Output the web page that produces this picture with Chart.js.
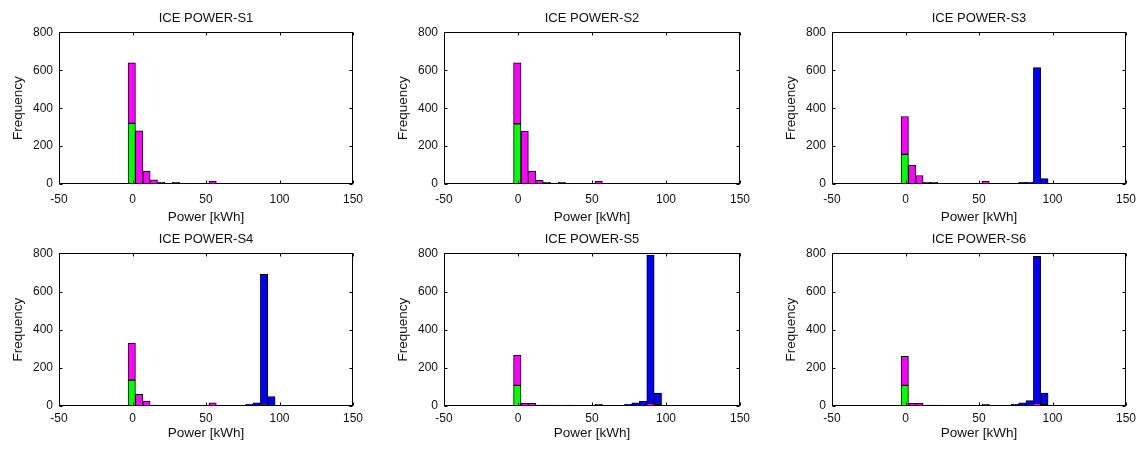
<!DOCTYPE html>
<html>
<head>
<meta charset="utf-8">
<script src="https://cdn.jsdelivr.net/npm/chart.js@4"></script>
<style>
  body { margin: 0; background: #fff; }
  #page { position: relative; width: 1140px; height: 449px; overflow: hidden; }
  canvas { position: absolute; }
</style>
</head>
<body>
<div id="page"></div>
<script>
// bin centres of the histogram (kWh)
const binCenters = [-0.5, 4.5, 9.5, 14.5, 19.5, 24.5, 29.5, 34.5, 39.5, 44.5, 49.5,
                    54.5, 59.5, 64.5, 69.5, 74.5, 79.5, 84.5, 89.5, 94.5, 99.5];

const xTickValues = [-50, 0, 50, 100, 150];
const yTickValues = [0, 200, 400, 600, 800];

const titles = ['ICE POWER-S1', 'ICE POWER-S2', 'ICE POWER-S3',
                'ICE POWER-S4', 'ICE POWER-S5', 'ICE POWER-S6'];
const xLabel = 'Power [kWh]';
const yLabel = 'Frequency';

// S1
const greenS1   = [320, 0, 0, 0, 0, 0, 0, 0, 0, 0, 0, 0, 0, 0, 0, 0, 0, 0, 0, 0, 0];
const magentaS1 = [320, 280, 68, 22, 9, 3, 9, 3, 3, 3, 3, 16, 0, 0, 0, 0, 0, 0, 0, 0, 0];
const blueS1    = [0, 0, 0, 0, 0, 0, 0, 0, 0, 0, 0, 0, 0, 0, 0, 0, 0, 0, 0, 0, 0];
// S2
const greenS2   = [318, 0, 0, 0, 0, 0, 0, 0, 0, 0, 0, 0, 0, 0, 0, 0, 0, 0, 0, 0, 0];
const magentaS2 = [322, 278, 68, 20, 9, 3, 9, 3, 3, 3, 3, 16, 0, 0, 0, 0, 0, 0, 0, 0, 0];
const blueS2    = [0, 0, 0, 0, 0, 0, 0, 0, 0, 0, 0, 0, 0, 0, 0, 0, 0, 0, 0, 0, 0];
// S3
const greenS3   = [156, 0, 0, 0, 0, 0, 0, 0, 0, 0, 0, 0, 0, 0, 0, 0, 0, 0, 0, 0, 0];
const magentaS3 = [200, 98, 45, 9, 9, 3, 3, 3, 3, 3, 3, 16, 4, 0, 0, 0, 0, 0, 0, 0, 0];
const blueS3    = [0, 0, 0, 0, 0, 0, 0, 0, 0, 0, 0, 0, 0, 0, 4, 4, 9, 9, 614, 28, 3];
// S4
const greenS4   = [136, 0, 0, 0, 0, 0, 0, 0, 0, 0, 0, 0, 0, 0, 0, 0, 0, 0, 0, 0, 0];
const magentaS4 = [194, 61, 26, 5, 3, 3, 0, 0, 3, 3, 3, 16, 3, 0, 0, 0, 0, 0, 8, 0, 0];
const blueS4    = [0, 0, 0, 0, 0, 0, 0, 0, 0, 0, 0, 0, 0, 0, 3, 3, 10, 17, 682, 50, 3];
// S5
const greenS5   = [108, 0, 0, 0, 0, 0, 0, 0, 0, 0, 0, 0, 0, 0, 0, 0, 0, 0, 0, 0, 0];
const magentaS5 = [157, 14, 14, 5, 5, 5, 0, 5, 0, 4, 4, 9, 3, 3, 3, 0, 0, 0, 14, 7, 0];
const blueS5    = [0, 0, 0, 0, 0, 0, 0, 0, 0, 0, 0, 0, 0, 0, 0, 10, 16, 24, 776, 61, 3];
// S6
const greenS6   = [108, 0, 0, 0, 0, 0, 0, 0, 0, 0, 0, 0, 0, 0, 0, 0, 0, 0, 0, 0, 0];
const magentaS6 = [152, 14, 14, 5, 5, 0, 4, 0, 0, 3, 3, 9, 3, 3, 3, 0, 0, 0, 14, 7, 0];
const blueS6    = [0, 0, 0, 0, 0, 0, 0, 0, 0, 0, 0, 0, 0, 0, 0, 10, 17, 28, 771, 61, 3];

const series = [
  [greenS1, magentaS1, blueS1],
  [greenS2, magentaS2, blueS2],
  [greenS3, magentaS3, blueS3],
  [greenS4, magentaS4, blueS4],
  [greenS5, magentaS5, blueS5],
  [greenS6, magentaS6, blueS6]
];
const barColors = ['#00ff00', '#ff00ff', '#0000ff'];

// panel placement: canvas left/width per column, top/height per row
const cols = [{left: 0, width: 365}, {left: 385, width: 367}, {left: 773, width: 365}];
const rows = [{top: 7, height: 220, xBox: 43, tickPad: 8},
              {top: 228, height: 215, xBox: 37, tickPad: 5}];

const fontFamily = '"Liberation Sans", Arial, Helvetica, sans-serif';
const textColor = '#111';

// MATLAB style box with inward ticks
const boxPlugin = {
  id: 'boxPlugin',
  afterDraw(chart) {
    const ctx = chart.ctx;
    const a = chart.chartArea;
    const xs = chart.scales.x, ys = chart.scales.y;
    const l = Math.round(a.left) + 0.5, r = Math.round(a.right) - 0.5;
    const t = Math.round(a.top) + 0.5, b = Math.round(a.bottom) - 0.5;
    ctx.save();
    ctx.strokeStyle = '#000';
    ctx.lineWidth = 1;
    ctx.strokeRect(l, t, r - l, b - t);
    ctx.beginPath();
    xs.ticks.forEach(tk => {
      const px = Math.round(xs.getPixelForValue(tk.value)) + 0.5;
      ctx.moveTo(px, b); ctx.lineTo(px, b - 3);
      ctx.moveTo(px, t); ctx.lineTo(px, t + 3);
    });
    ys.ticks.forEach(tk => {
      const py = Math.round(ys.getPixelForValue(tk.value)) + 0.5;
      ctx.moveTo(l, py); ctx.lineTo(l + 3, py);
      ctx.moveTo(r, py); ctx.lineTo(r - 3, py);
    });
    ctx.stroke();
    ctx.restore();
  }
};

const page = document.getElementById('page');

for (let i = 0; i < 6; i++) {
  const col = cols[i % 3];
  const row = rows[Math.floor(i / 3)];
  const cv = document.createElement('canvas');
  cv.width = col.width;
  cv.height = row.height;
  cv.style.left = col.left + 'px';
  cv.style.top = row.top + 'px';
  page.appendChild(cv);

  const datasets = series[i].map((vals, k) => ({
    data: vals.map((v, j) => ({x: binCenters[j], y: v})),
    backgroundColor: barColors[k],
    borderColor: '#000',
    borderWidth: 1,
    borderSkipped: false,
    barPercentage: 1,
    categoryPercentage: 1
  }));

  new Chart(cv, {
    type: 'bar',
    data: {datasets: datasets},
    plugins: [boxPlugin],
    options: {
      responsive: false,
      animation: false,
      devicePixelRatio: 1,
      layout: {padding: {left: 0, right: 12, top: 0, bottom: 0}},
      plugins: {
        legend: {display: false},
        tooltip: {enabled: false},
        title: {
          display: true,
          fullSize: false,
          text: titles[i],
          color: textColor,
          font: {family: fontFamily, size: 13, weight: 'normal'},
          padding: {top: 3.5, bottom: 6.3}
        }
      },
      scales: {
        x: {
          type: 'linear',
          stacked: true,
          offset: false,
          min: -50,
          max: 150,
          grid: {display: false, drawTicks: false, offset: false},
          border: {display: false},
          afterBuildTicks: s => { s.ticks = xTickValues.map(v => ({value: v})); },
          afterFit: s => { s.height = row.xBox; s.paddingLeft = 0; s.paddingRight = 0; },
          ticks: {
            color: textColor,
            padding: row.tickPad,
            maxRotation: 0,
            font: {family: fontFamily, size: 12}
          },
          title: {
            display: true,
            text: xLabel,
            color: textColor,
            font: {family: fontFamily, size: 13.5},
            padding: {top: 0, bottom: 2}
          }
        },
        y: {
          stacked: true,
          min: 0,
          max: 800,
          grid: {display: false, drawTicks: false},
          border: {display: false},
          afterBuildTicks: s => { s.ticks = yTickValues.map(v => ({value: v})); },
          afterFit: s => { s.width = 59; s.paddingTop = 0; s.paddingBottom = 0; },
          ticks: {
            color: textColor,
            padding: 6,
            font: {family: fontFamily, size: 12}
          },
          title: {
            display: true,
            text: yLabel,
            color: textColor,
            font: {family: fontFamily, size: 13.5},
            padding: {top: 10, bottom: 0}
          }
        }
      }
    }
  });
}
</script>
</body>
</html>
